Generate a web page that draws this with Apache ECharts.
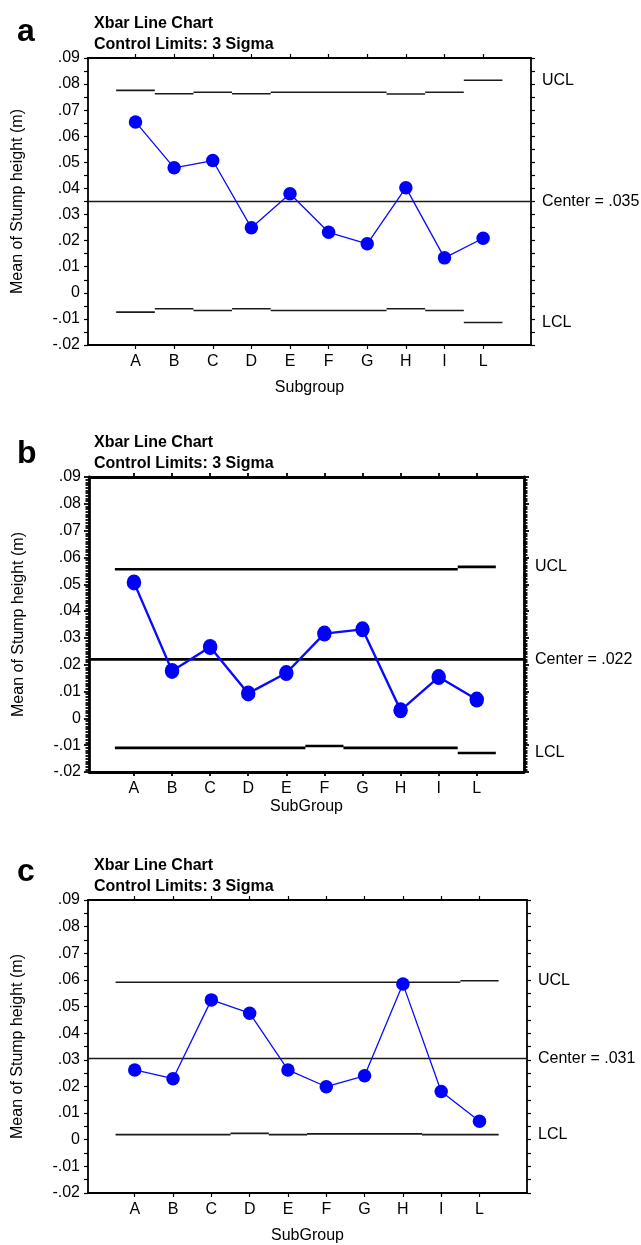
<!DOCTYPE html>
<html>
<head>
<meta charset="utf-8">
<script src="https://cdn.jsdelivr.net/npm/echarts@6/dist/echarts.min.js"></script>
<style>
html,body{margin:0;padding:0;background:#fff;}
#c{width:641px;height:1245px;}
</style>
</head>
<body>
<div id="c"></div>
<script>
// ---- data ----
const categories = ['A','B','C','D','E','F','G','H','I','L'];
const panelLetters = ['a','b','c'];
const titleLines = ['Xbar Line Chart', 'Control Limits: 3 Sigma'];
const yAxisName = 'Mean of Stump height (m)';
const xAxisNames = ['Subgroup', 'SubGroup', 'SubGroup'];
const limitNames = ['UCL', 'LCL'];

const meanA = [0.0655, 0.0479, 0.0507, 0.0249, 0.0380, 0.0232, 0.0188, 0.0403, 0.0134, 0.0209];
const uclA  = [0.0776, 0.0763, 0.0769, 0.0763, 0.0769, 0.0769, 0.0769, 0.0762, 0.0769, 0.0815];
const lclA  = [-0.0074, -0.0061, -0.0068, -0.0061, -0.0068, -0.0068, -0.0068, -0.0061, -0.0068, -0.0114];
const centerA = 0.035;
const centerLabelA = 'Center = .035';

const meanB = [0.0507, 0.0177, 0.0266, 0.0093, 0.0169, 0.0316, 0.0332, 0.0030, 0.0154, 0.0070];
const uclB  = [0.0556, 0.0556, 0.0556, 0.0556, 0.0556, 0.0556, 0.0556, 0.0556, 0.0556, 0.0565];
const lclB  = [-0.0110, -0.0110, -0.0110, -0.0110, -0.0110, -0.0103, -0.0110, -0.0110, -0.0110, -0.0129];
const centerB = 0.022;
const centerLabelB = 'Center = .022';

const meanC = [0.0262, 0.0229, 0.0525, 0.0475, 0.0262, 0.0199, 0.0240, 0.0585, 0.0181, 0.0069];
const uclC  = [0.0591, 0.0591, 0.0591, 0.0591, 0.0591, 0.0591, 0.0591, 0.0591, 0.0591, 0.0597];
const lclC  = [0.0019, 0.0019, 0.0019, 0.0024, 0.0019, 0.0022, 0.0022, 0.0022, 0.0019, 0.0019];
const centerC = 0.0305;
const centerLabelC = 'Center = .031';

const yMin = -0.02, yMax = 0.09, yInterval = 0.01;

// ---- layout / style ----
const FONT = '"Liberation Sans", Arial, Helvetica, sans-serif';
const panels = [
  {grid:{left:88,top:58,width:443,height:287}, xMin:-1.23, xMax:10.24,
   mean:meanA, ucl:uclA, lcl:lclA, center:centerA, centerLabel:centerLabelA,
   letterTop:11, titleTop:8, boxW:1.8, lineW:1.3, limW:1.6, sym:[13.5,13.5],
   minorSplit:2, minorLen:4, majorLen:4, tickW:1.2, xNameGap:35, limColor:'#1a1a1a'},
  {grid:{left:89,top:477,width:435,height:295}, xMin:-1.18, xMax:10.24,
   mean:meanB, ucl:uclB, lcl:lclB, center:centerB, centerLabel:centerLabelB,
   letterTop:433, titleTop:427.5, boxW:2.8, lineW:2.4, limW:2.6, sym:[14.5,16],
   minorSplit:10, minorLen:3.5, majorLen:5, tickW:1.8, xNameGap:27, limColor:'#000'},
  {grid:{left:88,top:900,width:439,height:293}, xMin:-1.22, xMax:10.24,
   mean:meanC, ucl:uclC, lcl:lclC, center:centerC, centerLabel:centerLabelC,
   letterTop:851, titleTop:850, boxW:1.8, lineW:1.3, limW:1.6, sym:[13.5,13.5],
   minorSplit:2, minorLen:4, majorLen:4, tickW:1.2, xNameGap:35, limColor:'#1a1a1a'}
];

const catIdx = categories.map((_, i) => i);
function yFmt(v){
  if (Math.abs(v) < 1e-9) return '0';
  return (Math.round(v*100)/100).toFixed(2).replace('0.', '.');
}
function steps(vals){
  const d = [];
  vals.forEach((v, i) => { d.push([i-0.5, v]); d.push([i+0.5, v]); d.push([i+0.5, '-']); });
  return d;
}

const option = {
  animation:false,
  backgroundColor:'#fff',
  textStyle:{fontFamily:FONT},
  title:[], grid:[], xAxis:[], yAxis:[], series:[]
};

panels.forEach((p, k) => {
  option.title.push({left:12, top:p.letterTop, text:panelLetters[k],
    textStyle:{fontFamily:FONT, fontSize:32, fontWeight:'bold', color:'#000', lineHeight:32}});
  option.title.push({left:89, top:p.titleTop, text:titleLines.join('\n'),
    textStyle:{fontFamily:FONT, fontSize:16, fontWeight:'bold', color:'#000', lineHeight:21}});
  option.grid.push(Object.assign({containLabel:false}, p.grid));

  const axLine = {show:true, onZero:false, lineStyle:{color:'#000', width:p.boxW}};
  const tickStyle = {color:'#000', width:p.tickW};
  const xb = option.xAxis.length;
  option.xAxis.push({type:'value', gridIndex:k, position:'bottom', min:p.xMin, max:p.xMax,
    axisLine:axLine, splitLine:{show:false},
    axisTick:{show:true, inside:false, length:4, customValues:catIdx, lineStyle:tickStyle},
    axisLabel:{show:true, customValues:catIdx, margin:9, color:'#000', fontSize:16, fontFamily:FONT,
      formatter:v => categories[Math.round(v)]},
    name:xAxisNames[k], nameLocation:'middle', nameGap:p.xNameGap,
    nameTextStyle:{color:'#000', fontSize:16, fontFamily:FONT}});
  option.xAxis.push({type:'value', gridIndex:k, position:'top', min:p.xMin, max:p.xMax,
    axisLine:axLine, splitLine:{show:false},
    axisTick:{show:true, inside:false, length:4, customValues:catIdx, lineStyle:tickStyle},
    axisLabel:{show:false}});
  const yl = option.yAxis.length;
  const yCommon = {type:'value', gridIndex:k, min:yMin, max:yMax, interval:yInterval,
    axisLine:axLine, splitLine:{show:false},
    axisTick:{show:true, inside:false, length:p.majorLen, lineStyle:tickStyle},
    minorTick:{show:true, splitNumber:p.minorSplit, length:p.minorLen, lineStyle:tickStyle},
    minorSplitLine:{show:false}};
  option.yAxis.push(Object.assign({}, yCommon, {position:'left',
    axisLabel:{show:true, margin:8, color:'#000', fontSize:16, fontFamily:FONT, formatter:yFmt},
    name:yAxisName, nameLocation:'middle', nameGap:62,
    nameTextStyle:{color:'#000', fontSize:16, fontFamily:FONT}}));
  option.yAxis.push(Object.assign({}, yCommon, {position:'right', axisLabel:{show:false}}));

  const limStyle = {color:p.limColor, width:p.limW};
  option.series.push({type:'line', xAxisIndex:xb, yAxisIndex:yl, symbol:'none', silent:true,
    data:[[p.xMin, p.center],[p.xMax, p.center]], lineStyle:limStyle, z:2});
  option.series.push({type:'line', xAxisIndex:xb, yAxisIndex:yl, symbol:'none', silent:true,
    connectNulls:false, data:steps(p.ucl), lineStyle:limStyle, z:2});
  option.series.push({type:'line', xAxisIndex:xb, yAxisIndex:yl, symbol:'none', silent:true,
    connectNulls:false, data:steps(p.lcl), lineStyle:limStyle, z:2});
  option.series.push({type:'line', xAxisIndex:xb, yAxisIndex:yl, symbol:'circle', symbolSize:p.sym,
    data:p.mean.map((v,i)=>[i,v]), lineStyle:{color:'#0a0aff', width:p.lineW},
    itemStyle:{color:'#0000ff', opacity:1}, z:3});
  const last = categories.length - 1;
  option.series.push({type:'scatter', xAxisIndex:xb, yAxisIndex:yl, symbolSize:0, clip:false, silent:true,
    itemStyle:{color:'#000', opacity:1},
    data:[
      {value:[p.xMax, p.ucl[last]], name:limitNames[0]},
      {value:[p.xMax, p.center], name:p.centerLabel},
      {value:[p.xMax, p.lcl[last]], name:limitNames[1]}
    ],
    label:{show:true, position:'right', distance:11, formatter:'{b}', color:'#000', opacity:1,
      fontSize:16, fontFamily:FONT},
    z:4});
});

const chart = echarts.init(document.getElementById('c'), null, {renderer:'canvas'});
chart.setOption(option);
</script>
</body>
</html>
